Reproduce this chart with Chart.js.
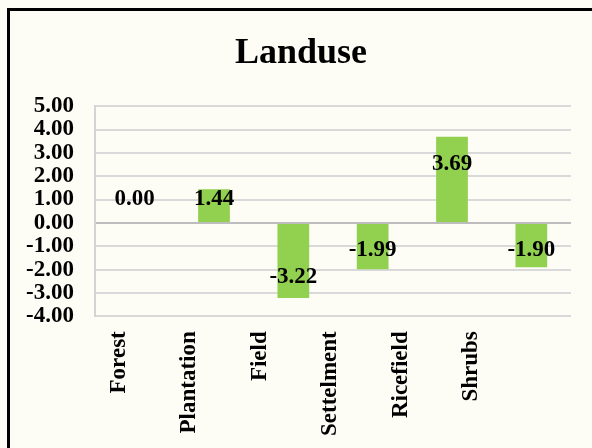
<!DOCTYPE html>
<html>
<head>
<meta charset="utf-8">
<script src="https://cdn.jsdelivr.net/npm/chart.js@4/dist/chart.umd.min.js"></script>
<style>
  html, body { margin: 0; padding: 0; background: #fdfdf6; overflow: hidden; }
  #wrap { position: relative; width: 592px; height: 448px; }
  #frame { position: absolute; left: 7px; top: 8px; width: 600px; height: 460px;
           border: 3px solid #000; box-sizing: border-box; pointer-events: none; }
</style>
</head>
<body>
<div id="wrap">
  <canvas id="c" width="592" height="448"></canvas>
  <div id="frame"></div>
</div>
<script>
// 数据
const categories = ['Forest', 'Plantation', 'Field', 'Settelment', 'Ricefield', 'Shrubs'];
const values = [0.00, 1.44, -3.22, -1.99, 3.69, -1.90];
// 数值标签所在的纵轴位置
const labelAt = [1.0, 1.0, -2.3, -1.15, 2.5, -1.15];
const yTicks = [5, 4, 3, 2, 1, 0, -1, -2, -3, -4];

const SERIF = '"Liberation Serif", "Times New Roman", serif';

// 在柱子上写数值
const valueLabels = {
    id: 'valueLabels',
    afterDatasetsDraw(chart) {
        const { ctx } = chart;
        const meta = chart.getDatasetMeta(0);
        const y = chart.scales.y;
        ctx.save();
        ctx.font = 'bold 23px ' + SERIF;
        ctx.fillStyle = '#000';
        ctx.textAlign = 'center';
        ctx.textBaseline = 'middle';
        meta.data.forEach((bar, i) => {
            ctx.fillText(values[i].toFixed(2), bar.x, y.getPixelForValue(labelAt[i]));
        });
        ctx.restore();
    }
};

new Chart(document.getElementById('c'), {
    type: 'bar',
    data: {
        labels: categories,
        datasets: [{
            data: values,
            backgroundColor: '#92d050',
            borderWidth: 0,
            categoryPercentage: 1,
            barPercentage: 0.4
        }]
    },
    options: {
        responsive: false,
        animation: false,
        layout: { padding: { left: 18, right: 8, top: 0, bottom: 5 } },
        plugins: {
            legend: { display: false },
            tooltip: { enabled: false },
            title: {
                display: true,
                text: 'Landuse',
                color: '#000',
                font: { family: SERIF, size: 36, weight: 'bold' },
                padding: { top: 32, bottom: 31 }
            }
        },
        scales: {
            x: { display: false },
            // 类别名单独一条轴（图中名称间距比柱子略窄）
            x2: {
                type: 'linear',
                position: 'bottom',
                offset: false,
                bounds: 'data',
                min: -0.34,
                max: 6.42,
                afterBuildTicks: s => { s.ticks = categories.map((_, i) => ({ value: i })); },
                grid: { display: false, offset: false },
                border: { display: false },
                ticks: {
                    color: '#000',
                    font: { family: SERIF, size: 23, weight: 'bold' },
                    minRotation: 90,
                    maxRotation: 90,
                    padding: 7,
                    autoSkip: false,
                    callback: v => categories[v]
                }
            },
            y: {
                min: -4,
                max: 5,
                afterBuildTicks: s => { s.ticks = yTicks.map(v => ({ value: v })); },
                afterFit: s => { s.width = 77; },
                grid: {
                    color: c => c.tick && c.tick.value === 0 ? '#bdbdbd' : '#d9d9d9',
                    lineWidth: 2,
                    drawTicks: false
                },
                border: { display: true, color: '#d4d4d4', width: 2 },
                ticks: {
                    color: '#000',
                    font: { family: SERIF, size: 23, weight: 'bold' },
                    padding: 21,
                    autoSkip: false,
                    callback: v => v.toFixed(2)
                }
            },
            // 右侧留白（空轴）
            yR: {
                type: 'linear',
                position: 'right',
                afterFit: s => { s.width = 13; },
                grid: { display: false },
                border: { display: false },
                ticks: { display: false }
            }
        }
    },
    plugins: [valueLabels]
});
</script>
</body>
</html>
